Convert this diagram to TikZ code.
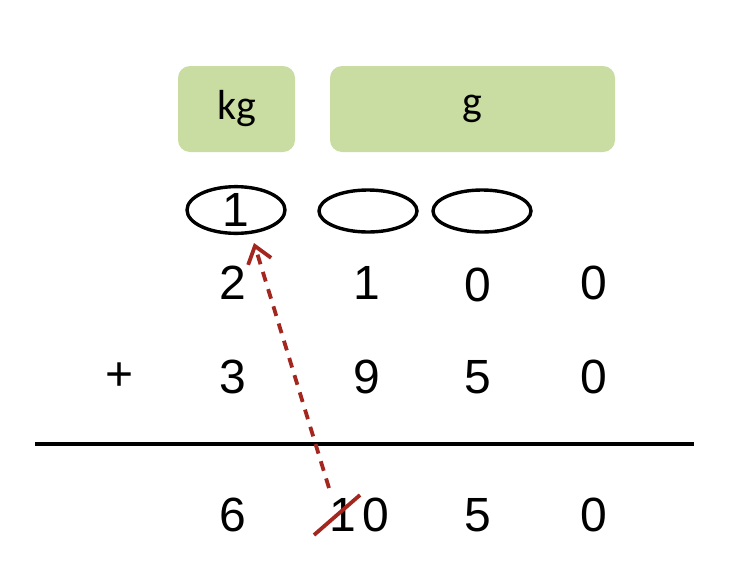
\documentclass[tikz,border=0pt]{standalone}
\usepackage{fontspec}
\setmainfont{Liberation Sans}
\newfontfamily\unitfont{Carlito}
\usetikzlibrary{calc,arrows.meta,shapes.geometric}
\definecolor{unitgreen}{HTML}{C9DCA2}
\definecolor{carryred}{HTML}{A3261F}
\tikzset{
	unitbox/.style={fill=unitgreen, rounded corners=6pt, minimum height=43pt, inner sep=0pt, font=\unitfont\fontsize{21}{21}\selectfont},
	slot/.style={draw, ellipse, line width=1.7pt, minimum width=49pt, minimum height=21pt, inner sep=0pt},
	digit/.style={inner sep=0pt, font=\fontsize{24}{24}\selectfont},
	carry/.style={carryred, line width=1.9pt, dash pattern=on 5pt off 4pt, -{Straight Barb[length=8pt,width=12pt,line width=1.9pt]}}
}

\begin{document}
\begin{tikzpicture}[x=0.5pt, y=-0.5pt]
		%%%%% START %%%%%
		\useasboundingbox (0,0) rectangle (732,584);
		
		\node[unitbox, minimum width=58.5pt] (kg) at (236.5,109) {kg};
		\node[unitbox, minimum width=142.5pt] (g) at (472.5,109) {g};
		
		\node[slot, digit] (one) at (236,210) {1};
		\node[slot] (slotb) at (368,211) {};
		\node[slot] (slotc) at (482,211) {};
		
		\node[digit] (a1) at (233,283) {2};
		\node[digit] (a2) at (367,283) {1};
		\node[digit] (a3) at (478,285) {0};
		\node[digit] (a4) at (594,283) {0};
		
		\node[digit] (plus) at (120,377) {+};
		\node[digit] (b1) at (233,377) {3};
		\node[digit] (b2) at (367,377) {9};
		\node[digit] (b3) at (478,377) {5};
		\node[digit] (b4) at (594,377) {0};
		
		\draw[line width=2.2pt] (35,444) -- (694,444);
		
		\node[digit] (c1) at (233,515) {6};
		\node[digit] (ten1) at (343,515) {1};
		\node[digit] (ten0) at (376,515) {0};
		\node[digit] (c3) at (478,515) {5};
		\node[digit] (c4) at (594,515) {0};
		
		\draw[carryred, line width=1.9pt] ($(ten1)+(-29,20)$) -- ($(ten1)+(17,-20)$);
		
		\coordinate (carrytip) at (254,243);
		\draw[carry] ($(ten1)+(-14,-27)$) -- (carrytip);
		
		%%%%% END %%%%%
	\end{tikzpicture}
\end{document}
